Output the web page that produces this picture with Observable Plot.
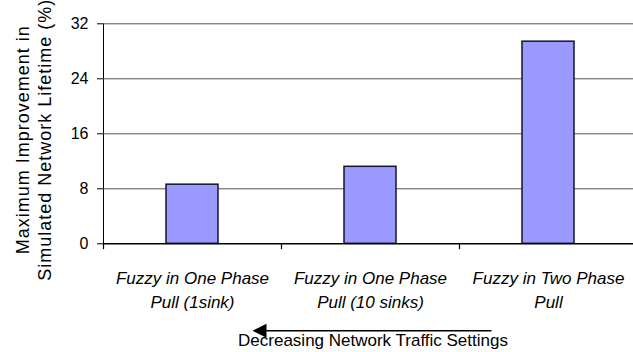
<!DOCTYPE html>
<html>
<head>
<meta charset="utf-8">
<script src="https://cdn.jsdelivr.net/npm/d3@7"></script>
<script src="https://cdn.jsdelivr.net/npm/@observablehq/plot@0.6"></script>
<style>
  html, body { margin: 0; padding: 0; background: #fff; }
  #chart { width: 633px; height: 352px; }
</style>
</head>
<body>
<div id="chart"></div>
<script>
// Bar categories (two-line labels) and their values (%)
const categories = [
  "Fuzzy in One Phase\nPull (1sink)",
  "Fuzzy in One Phase\nPull (10 sinks)",
  "Fuzzy in Two Phase\nPull"
];
const improvement = [8.6, 11.2, 29.4];
const yTicks = [0, 8, 16, 24, 32];
const yTitle = "Maximum Improvement in\nSimulated Network Lifetime (%)";
const xTitle = "Decreasing Network Traffic Settings";

const font = "'Liberation Sans', Arial, sans-serif";
const rows = categories.map((c, i) => ({cat: c, value: improvement[i]}));

// Leftward arrow under the category labels, centred on the middle category
function trafficArrow(index, scales, values, dims) {
  const x = scales.x;
  const bw = typeof x.bandwidth === "function" ? x.bandwidth() : (scales.scales.x.bandwidth || 0);
  const cx = x(categories[1]) + bw / 2;
  const y = dims.height - 21.3;
  const tip = cx - 117.5, end = cx + 121.5, head = 14, half = 7;
  const g = d3.create("svg:g");
  g.append("line")
    .attr("x1", tip + head - 1).attr("x2", end)
    .attr("y1", y).attr("y2", y)
    .attr("stroke", "#000").attr("stroke-width", 1.6);
  g.append("path")
    .attr("d", `M${tip},${y}L${tip + head},${y - half}L${tip + head},${y + half}Z`)
    .attr("fill", "#000");
  return g.node();
}

const chart = Plot.plot({
  width: 633,
  height: 352,
  marginLeft: 103,
  marginRight: 0,
  marginTop: 23.3,
  marginBottom: 108.7,
  style: {fontFamily: font, fontSize: "16px", background: "#fff", color: "#000", overflow: "visible"},
  x: {domain: categories, range: [103, 637], paddingInner: 0.708, paddingOuter: 0.354, axis: null},
  y: {domain: [0, 32], ticks: yTicks, tickSize: 6, tickPadding: 9, label: null, line: true},
  marks: [
    Plot.ruleY(yTicks.filter(t => t > 0), {stroke: "#555", strokeWidth: 1}),
    Plot.barY(rows, {x: "cat", y: "value", fill: "#9999ff", stroke: "#15152a", strokeWidth: 1.5}),
    Plot.ruleY([0], {stroke: "#000", strokeWidth: 1.5}),
    // category separator ticks below the baseline
    Plot.ruleX(rows, {x: "cat", dx: -89, y1: 0, y2: -0.85, stroke: "#000", strokeWidth: 1.2}),
    Plot.text(rows, {
      x: "cat", y: 0, text: "cat", dy: 23.4, lineAnchor: "top",
      fontStyle: "italic", fontSize: 17, lineHeight: 24 / 17, fill: "#000"
    }),
    Plot.text([yTitle], {
      frameAnchor: "left", rotate: -90, dx: -70.3, dy: 6,
      textAnchor: "middle", lineAnchor: "middle",
      fontSize: 18, lineHeight: 22 / 18, fill: "#000"
    }),
    Plot.text([{cat: categories[1], t: xTitle}], {
      x: "cat", text: "t", frameAnchor: "bottom", dx: 2.5, dy: 90.5,
      lineAnchor: "top", fontSize: 17, fill: "#000"
    }),
    trafficArrow
  ]
});

// slightly looser tracking on the rotated axis title
d3.select(chart).selectAll("text").filter(function () {
  return (this.getAttribute("transform") || "").includes("rotate(-90)");
}).attr("letter-spacing", "1px");

document.getElementById("chart").appendChild(chart);
</script>
</body>
</html>
